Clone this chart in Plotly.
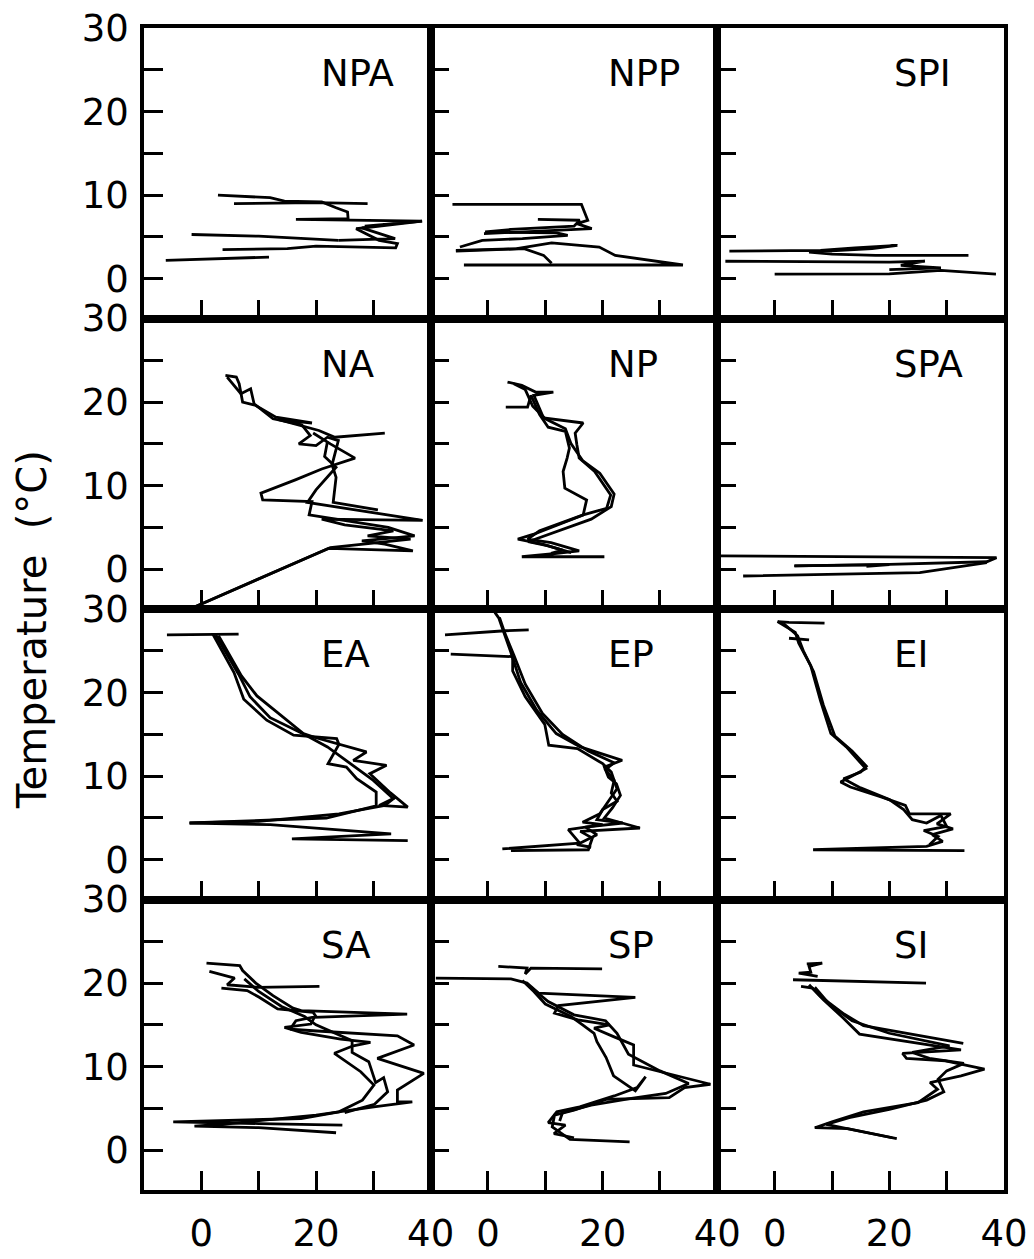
import plotly.graph_objects as go

# ---------------- data (value on x, temperature on y) ----------------
PANELS = ["NPA", "NPP", "SPI", "NA", "NP", "SPA", "EA", "EP", "EI", "SA", "SP", "SI"]

NPA_X = [[2.9, 12.0, 14.5, 21.0, 23.5, 25.5, 25.6, 16.5, 38.5, 28.5, 32.0, 28.0, 33.8, 23.9],
         [5.7, 20.0, 29.0],
         [-1.7, 10.0, 23.9],
         [3.7, 15.0, 20.0, 33.9, 34.2, 31.0, 27.0, 30.0, 38.5],
         [-6.2, 5.0, 11.8]]
NPA_Y = [[10.0, 9.7, 9.3, 9.2, 8.5, 8.0, 7.2, 7.1, 6.9, 6.3, 6.5, 6.1, 4.8, 4.6],
         [9.0, 9.1, 9.0],
         [5.3, 5.1, 4.6],
         [3.5, 3.6, 3.9, 3.7, 4.2, 4.6, 6.0, 6.2, 6.9],
         [2.2, 2.4, 2.6]]

NPP_X = [[-6.2, 16.3, 17.4, 15.5, 18.1, -0.7],
         [8.7, 16.0, 15.0, 4.0, -0.5, 12.0, 13.9, 6.0, -1.0, -4.9],
         [-5.6, 5.0, 11.1, 19.4, 22.2, 31.3, 34.0, -4.2],
         [-5.6, 6.3, 9.7, 11.1]]
NPP_Y = [[8.9, 8.9, 7.0, 6.6, 6.0, 5.4],
         [7.1, 7.0, 6.3, 5.9, 5.6, 5.5, 5.2, 4.8, 4.6, 3.8],
         [3.4, 3.6, 4.3, 3.8, 2.8, 1.85, 1.65, 1.65],
         [3.3, 3.6, 2.8, 1.85]]

SPI_X = [[-7.9, 8.0, 14.0, 21.4, 17.0, 6.0, 10.0, 17.6, 33.8],
         [-8.6, 8.0, 20.0, 26.2, 22.0, 29.0, 20.0],
         [0.0, 20.0, 29.0, 38.6]]
SPI_Y = [[3.3, 3.4, 3.7, 4.0, 3.6, 3.2, 2.95, 2.8, 2.8],
         [2.1, 2.0, 2.0, 2.1, 1.6, 1.3, 1.1],
         [0.55, 0.6, 1.0, 0.55]]

NA_X = [[4.2, 6.1, 6.6, 7.2, 9.5, 13.0, 19.3, 13.5, 20.5, 23.3, 32.0],
        [4.5, 6.9, 8.6, 9.2, 12.5, 17.5, 19.0, 17.0, 20.0, 22.0, 23.9, 22.8, 23.5, 23.0, 30.8],
        [19.5, 22.5, 26.8, 21.0, 16.4, 10.4, 10.7, 19.3, 18.8, 32.6, 37.2, 28.0, 32.0, 36.9, 22.2, -1.5],
        [22.0, 21.5, 23.5, 20.0, 18.5, 38.6, 21.0, 25.0, 33.5, 29.0, 36.5, 31.0, 22.5, -1.2]]
NA_Y = [[23.2, 23.0, 22.2, 20.0, 19.6, 18.2, 17.5, 17.9, 16.6, 15.8, 16.3],
        [23.0, 21.0, 21.6, 19.8, 18.0, 17.3, 16.0, 15.0, 14.8, 15.8, 15.4, 12.5, 11.0, 8.0, 7.1],
        [16.3, 15.0, 13.3, 12.0, 10.7, 9.1, 8.3, 8.1, 6.5, 5.0, 4.0, 3.4, 3.0, 2.2, 2.5, -4.6],
        [15.3, 13.5, 12.2, 9.5, 8.0, 5.85, 6.0, 5.3, 4.6, 4.0, 3.6, 3.2, 2.6, -4.5]]

NP_X = [[3.4, 5.9, 8.3, 11.4, 8.0, 9.7, 16.6, 15.2, 15.5, 15.9, 18.6, 21.4, 20.7, 16.6, 9.0, 6.9, 11.0, 15.9, 10.5, 5.9, 20.3],
        [3.1, 6.9, 7.5, 9.0, 10.5, 13.5, 14.2, 13.8, 13.1, 13.4, 17.2, 16.6, 8.0, 5.2, 9.5, 13.0, 11.0],
        [4.5, 6.5, 7.8, 10.0, 13.5, 14.5, 16.5, 19.5, 22.0, 21.5, 18.0, 10.0, 7.0, 10.5, 14.5]]
NP_Y = [[22.4, 22.0, 21.2, 21.2, 20.8, 18.1, 17.5, 16.3, 14.9, 13.3, 11.7, 8.9, 7.3, 6.5, 4.6, 3.6, 3.2, 2.2, 1.8, 1.5, 1.5],
        [19.4, 19.4, 20.8, 18.5, 17.0, 16.5, 14.5, 13.3, 11.7, 9.7, 8.3, 6.5, 4.2, 3.6, 3.0, 2.3, 1.9],
        [22.2, 21.5, 19.5, 18.0, 16.8, 15.0, 13.0, 11.5, 9.0, 7.5, 6.0, 4.0, 3.3, 2.8, 2.0]]

SPA_X = [[-9.6, 10.0, 30.0, 38.7, 37.0, 20.0, 3.4],
         [3.5, 20.0, 16.0],
         [-5.5, 10.0, 25.3, 37.0]]
SPA_Y = [[1.6, 1.5, 1.45, 1.4, 0.9, 0.6, 0.4],
         [0.4, 0.55, 0.35],
         [-0.8, -0.6, -0.4, 0.8]]

EA_X = [[-6.0, 6.5],
        [2.0, 3.4, 5.7, 7.4, 11.4, 16.1, 23.6, 24.0, 22.1, 25.3, 27.1, 30.5, 30.5, 21.8, -2.1, 12.0, 33.1, 15.8, 36.0],
        [3.0, 4.5, 7.0, 9.7, 13.5, 17.8, 20.0, 28.8, 26.5, 32.3, 29.4, 33.0, 36.0, 31.0, 34.0],
        [2.5, 4.0, 6.5, 8.5, 12.0, 18.0, 22.0, 26.0, 30.0, 33.5, 32.0, 24.0, 10.0, -2.0]]
EA_Y = [[26.9, 27.0],
        [27.0, 25.2, 22.4, 19.2, 16.7, 14.9, 14.5, 13.8, 11.5, 11.1, 9.7, 8.1, 6.45, 5.0, 4.4, 4.2, 3.1, 2.5, 2.3],
        [26.8, 25.0, 22.0, 19.6, 17.5, 15.1, 14.6, 12.9, 11.9, 11.3, 10.3, 8.0, 6.3, 6.5, 7.5],
        [26.9, 25.1, 22.2, 19.5, 17.0, 15.0, 13.5, 11.5, 9.5, 7.3, 6.5, 5.5, 4.6, 4.4]]

EP_X = [[1.2, 1.9, 2.6, 4.0, 5.7, 8.5, 11.9, 16.1, 23.4, 20.3, 21.0, 22.4, 23.1, 21.7, 20.3, 26.5, 16.1, 18.2, 17.5, 4.0],
        [-7.5, 3.0, 7.1],
        [-6.5, 4.3, 4.3, 6.5, 9.9, 10.6, 15.6, 20.0, 21.5, 22.5, 21.0, 19.5, 16.5, 20.0, 14.0, 16.0, 2.5],
        [2.0, 3.0, 4.5, 6.5, 9.5, 13.0, 17.5, 22.0, 20.5, 22.0, 21.5, 22.5, 20.0, 19.0, 23.5, 17.0, 19.0, 15.5, 18.0]]
EP_Y = [[29.6, 28.9, 27.5, 24.8, 21.2, 17.9, 15.1, 13.5, 11.9, 11.1, 9.9, 9.1, 7.7, 6.2, 5.0, 3.8, 3.4, 2.6, 1.2, 1.1],
        [26.9, 27.4, 27.5],
        [24.6, 24.3, 22.6, 19.5, 16.2, 13.7, 13.3, 11.5, 10.5, 8.5, 7.0, 5.5, 4.5, 4.2, 3.6, 2.0, 1.3],
        [29.0, 27.0, 24.5, 21.0, 17.5, 15.0, 13.0, 11.6, 10.8, 9.5, 8.0, 7.0, 6.0, 4.8, 4.4, 3.9, 3.0, 1.8, 1.5]]

EI_X = [[0.5, 2.5, 8.7],
        [0.5, 3.6, 4.2, 6.3, 8.0, 9.8, 12.5, 15.9, 14.0, 11.5, 13.2, 18.7, 22.8, 23.5, 30.7, 28.3, 31.1, 27.5, 29.3, 26.5, 6.7, 33.1],
        [1.5, 4.0, 5.0, 6.8, 8.5, 10.5, 13.5, 16.0, 15.0, 12.0, 15.0, 20.0, 22.5, 24.0, 26.5, 29.0, 30.0, 26.0, 28.5, 27.0],
        [2.5, 6.0]]
EI_Y = [[28.5, 28.4, 28.3],
        [28.5, 27.2, 25.9, 23.2, 19.0, 15.1, 13.5, 10.9, 10.2, 9.3, 8.7, 7.5, 6.5, 5.5, 5.5, 4.3, 3.7, 3.0, 2.2, 1.6, 1.2, 1.1],
        [28.3, 26.8, 25.0, 22.5, 18.5, 14.8, 13.0, 11.2, 10.5, 9.7, 8.6, 7.2, 6.0, 4.8, 4.4, 5.3, 4.0, 3.5, 2.8, 1.8],
        [26.5, 26.3]]

SA_X = [[0.9, 6.7, 7.2, 9.5, 12.5, 16.0, 17.4, 35.9, 19.7, 19.1, 14.5, 17.4, 24.3, 29.5, 26.5, 23.2, 27.8, 30.1, 28.1, 24.0, 17.4, -4.9, 10.0, 24.6],
        [1.4, 5.8, 4.5, 9.8, 20.6],
        [3.5, 8.0, 10.1, 13.3, 19.5, 20.0, 16.5, 15.5, 19.5, 34.2, 37.1, 30.7, 38.8, 35.9, 34.2, 34.2, 36.8, 30.1, 20.0, 5.0, -1.2, 10.0, 23.5],
        [7.5, 10.0, 14.0, 18.0, 20.0, 26.3, 26.3, 29.2, 30.4, 31.8, 32.5, 30.2, 25.0]]
SA_Y = [[22.4, 22.1, 21.5, 20.0, 18.5, 17.0, 16.7, 16.3, 15.9, 15.1, 14.7, 14.1, 13.3, 12.9, 12.5, 11.6, 9.4, 7.8, 6.0, 4.6, 3.8, 3.4, 3.2, 3.0],
        [21.4, 20.6, 19.8, 19.5, 19.6],
        [19.4, 19.1, 18.3, 16.9, 16.5, 16.0, 15.5, 14.5, 14.3, 13.7, 12.6, 11.0, 9.2, 8.0, 7.2, 5.8, 5.8, 5.2, 4.2, 3.2, 2.9, 2.7, 2.1],
        [20.5, 19.0, 17.2, 16.0, 15.0, 13.1, 11.7, 10.6, 8.1, 8.7, 7.0, 5.5, 4.5]]

SP_X = [[1.8, 6.8, 6.5, 7.5, 19.9],
        [-9.1, 4.0, 6.8, 8.8, 25.7, 12.3, 11.6, 15.7, 21.2, 18.5, 21.9, 25.4, 25.4, 38.8, 34.3, 31.6, 20.6, 15.0, 11.6, 11.2, 14.3, 24.7],
        [6.0, 8.0, 10.0, 14.5, 16.5, 18.5, 19.0, 20.6, 21.9, 25.7, 27.5, 26.0, 22.0, 16.0, 12.0, 10.5, 13.5, 11.5, 15.0],
        [7.5, 10.5, 15.0, 20.5, 22.5, 24.5, 30.0, 35.0, 31.0, 25.0, 18.0, 13.0, 12.5]]
SP_Y = [[22.0, 21.8, 21.1, 21.8, 21.7],
        [20.6, 20.5, 20.0, 18.8, 18.3, 17.3, 16.4, 15.6, 15.0, 14.6, 13.6, 12.6, 10.2, 7.9, 7.5, 6.3, 6.1, 4.8, 4.2, 2.8, 1.3, 1.0],
        [20.3, 19.0, 17.5, 16.0, 15.0, 14.0, 13.0, 11.1, 8.9, 7.1, 8.8, 7.5, 6.5, 5.2, 4.6, 3.3, 3.0, 2.0, 1.5],
        [19.5, 17.8, 16.2, 15.5, 14.0, 11.5, 9.5, 8.0, 6.8, 6.2, 5.4, 4.5, 3.5]]

SI_X = [[5.6, 8.3, 6.0, 6.3, 4.2, 7.5],
        [3.2, 15.0, 26.4],
        [4.6, 6.6, 8.0, 12.1, 15.5, 32.9],
        [6.0, 8.5, 12.0, 14.8, 32.5, 22.3, 23.0, 29.8, 36.6, 32.5, 27.1, 28.4, 25.0, 15.5, 10.0, 7.0, 12.7, 18.2, 21.3],
        [7.0, 9.5, 13.5, 20.0, 30.5, 24.0, 27.0, 33.0, 30.0, 28.5, 29.5, 26.5, 20.0, 13.0, 9.0, 14.0, 20.5]]
SI_Y = [[22.3, 22.4, 22.0, 21.3, 21.2, 20.8],
        [20.4, 20.2, 20.0],
        [19.6, 19.4, 18.4, 16.3, 14.9, 12.8],
        [19.8, 18.0, 15.8, 13.9, 12.0, 11.6, 11.0, 10.7, 9.7, 8.9, 8.1, 7.3, 5.7, 4.6, 3.4, 2.7, 2.6, 1.8, 1.4],
        [19.5, 17.5, 15.5, 14.0, 12.5, 11.7, 11.0, 10.4, 9.5, 8.5, 7.0, 6.0, 4.9, 3.9, 3.1, 2.4, 1.5]]

X_TICKS = [0, 10, 20, 30, 40]
X_TICKTEXT = ["0", "", "20", "", "40"]
Y_TICKS = [0, 5, 10, 15, 20, 25, 30]
Y_TICKTEXT = ["0", "", "10", "", "20", "", "30"]
X_RANGE = [-10, 40]
Y_RANGE = [-4.75, 30]
Y_TITLE = "Temperature  (°C)"

DATA = {
    "NPA": (NPA_X, NPA_Y), "NPP": (NPP_X, NPP_Y), "SPI": (SPI_X, SPI_Y),
    "NA": (NA_X, NA_Y), "NP": (NP_X, NP_Y), "SPA": (SPA_X, SPA_Y),
    "EA": (EA_X, EA_Y), "EP": (EP_X, EP_Y), "EI": (EI_X, EI_Y),
    "SA": (SA_X, SA_Y), "SP": (SP_X, SP_Y), "SI": (SI_X, SI_Y),
}

FONT = "DejaVu Sans"

fig = go.Figure()
layout = {}
annotations = []
for i, name in enumerate(PANELS):
    r, c = divmod(i, 3)
    n = i + 1
    sfx = "" if n == 1 else str(n)
    xs, ys = DATA[name]
    for x, y in zip(xs, ys):
        fig.add_trace(go.Scatter(x=x, y=y, mode="lines",
                                 line=dict(color="black", width=2.8),
                                 xaxis="x" + sfx, yaxis="y" + sfx,
                                 showlegend=False, hoverinfo="skip"))
    bottom = (r == 3)
    layout["xaxis" + sfx] = dict(
        domain=[c / 3, (c + 1) / 3], range=X_RANGE, anchor="y" + sfx,
        showline=True, mirror=True, linecolor="black", linewidth=3.5,
        ticks="inside", ticklen=19, tickwidth=2.5, tickcolor="black",
        tickvals=X_TICKS if bottom else X_TICKS[:4],
        ticktext=X_TICKTEXT if bottom else ["", "", "", ""],
        showticklabels=bottom, ticklabelstandoff=8, automargin=False,
        tickfont=dict(family=FONT, size=37, color="black"),
        showgrid=False, zeroline=False, fixedrange=True)
    layout["yaxis" + sfx] = dict(
        domain=[1 - (r + 1) / 4, 1 - r / 4], range=Y_RANGE, anchor="x" + sfx,
        showline=True, mirror=True, linecolor="black", linewidth=3.5,
        ticks="inside", ticklen=19, tickwidth=2.5, tickcolor="black",
        tickvals=Y_TICKS, ticktext=Y_TICKTEXT,
        showticklabels=(c == 0), ticklabelstandoff=4, automargin=False,
        tickfont=dict(family=FONT, size=37, color="black"),
        showgrid=False, zeroline=False, fixedrange=True)
    annotations.append(dict(text=name, x=20.5, y=24.5, xref="x" + sfx, yref="y" + sfx,
                            xanchor="left", yanchor="middle", showarrow=False,
                            font=dict(family=FONT, size=37, color="black")))

annotations.append(dict(text=Y_TITLE, x=-0.13, y=0.482, xref="paper", yref="paper",
                        textangle=-90, xanchor="center", yanchor="middle", showarrow=False,
                        font=dict(family=FONT, size=40, color="black")))

fig.update_layout(width=1034, height=1259,
                  margin=dict(l=144, r=30, t=28, b=69),
                  paper_bgcolor="white", plot_bgcolor="white",
                  annotations=annotations, **layout)

fig.write_html("out.html")
